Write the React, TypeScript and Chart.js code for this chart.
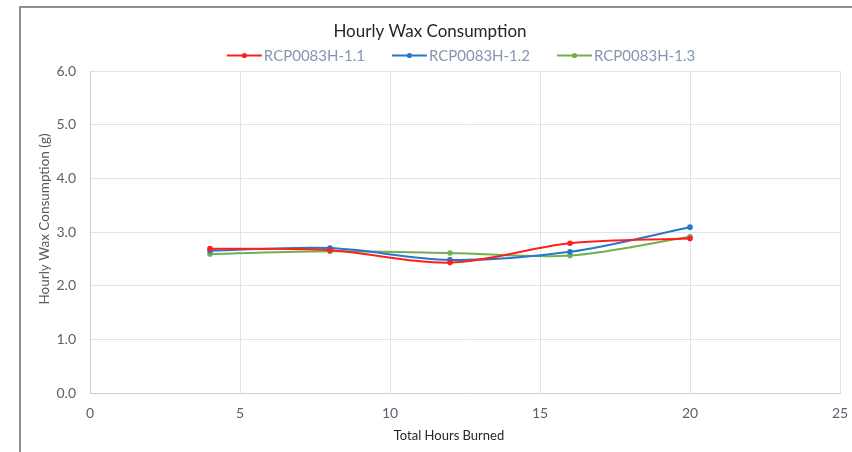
import React, { useEffect, useRef } from "react";
import { Chart, registerables } from "chart.js";

Chart.register(...registerables);

const hours = [4, 8, 12, 16, 20];
const seriesNames = ["RCP0083H-1.1", "RCP0083H-1.2", "RCP0083H-1.3"];
const s1 = [2.69, 2.66, 2.43, 2.79, 2.88];
const s2 = [2.65, 2.7, 2.48, 2.63, 3.09];
const s3 = [2.59, 2.64, 2.61, 2.56, 2.91];
const seriesColors = ["#ff1f1f", "#2479cc", "#72b04c"];
const xTicks = [0, 5, 10, 15, 20, 25];
const yTicks = [0, 1, 2, 3, 4, 5, 6];
const chartTitle = "Hourly Wax Consumption";
const xTitle = "Total Hours Burned";
const yTitle = "Hourly Wax Consumption (g)";

const FONT = "Lato, 'Open Sans', sans-serif";

const customPlugin = {
  id: "customText",
  afterDraw(chart: any) {
    const ctx = chart.ctx as CanvasRenderingContext2D;
    ctx.save();
    // legend
    ctx.font = `15px ${FONT}`;
    ctx.textBaseline = "middle";
    ctx.textAlign = "left";
    const lineLen = 35;
    const gapText = 2;
    const gapItem = 27;
    const items = chart.data.datasets.map((ds: any) => ({
      label: ds.label,
      color: ds.borderColor,
      w: ctx.measureText(ds.label).width,
    }));
    let total = 0;
    items.forEach((it: any, i: number) => {
      total += lineLen + gapText + it.w + (i > 0 ? gapItem : 0);
    });
    let x = 461 - total / 2;
    const y = 55.5;
    items.forEach((it: any) => {
      ctx.strokeStyle = it.color;
      ctx.lineWidth = 2;
      ctx.beginPath();
      ctx.moveTo(x, y);
      ctx.lineTo(x + lineLen, y);
      ctx.stroke();
      ctx.fillStyle = it.color;
      ctx.beginPath();
      ctx.arc(x + lineLen / 2, y, 2.6, 0, Math.PI * 2);
      ctx.fill();
      ctx.fillStyle = "#8497b0";
      ctx.fillText(it.label, x + lineLen + gapText, y + 0.5);
      x += lineLen + gapText + it.w + gapItem;
    });
    // x axis title
    ctx.font = `13px ${FONT}`;
    ctx.fillStyle = "#262626";
    ctx.textAlign = "center";
    ctx.fillText(xTitle, 449, 436);
    // y axis title
    ctx.translate(45, 219);
    ctx.rotate(-Math.PI / 2);
    ctx.font = `13.5px ${FONT}`;
    ctx.fillStyle = "#595959";
    ctx.fillText(yTitle, 0, 0);
    ctx.restore();
  },
};

export default function App() {
  const ref = useRef<HTMLCanvasElement | null>(null);
  useEffect(() => {
    if (!ref.current) return;
    const datasets = [s1, s2, s3].map((vals, i) => ({
      label: seriesNames[i],
      data: hours.map((h, j) => ({ x: h, y: vals[j] })),
      borderColor: seriesColors[i],
      backgroundColor: seriesColors[i],
      borderWidth: 2,
      pointRadius: 2.8,
      pointHoverRadius: 2.8,
      pointBorderWidth: 0,
      tension: 0.33,
      fill: false,
    }));
    const chart = new Chart(ref.current, {
      type: "line",
      data: { datasets },
      plugins: [customPlugin],
      options: {
        animation: false,
        responsive: false,
        layout: { padding: { left: 20, right: 12, top: 0, bottom: 0 } },
        plugins: {
          legend: { display: false },
          tooltip: { enabled: false },
          title: {
            display: true,
            text: chartTitle,
            color: "#262626",
            font: { family: FONT, size: 17, weight: "normal" },
            padding: { top: 21, bottom: 29.6 },
          },
        },
        scales: {
          x: {
            type: "linear",
            min: 0,
            max: 25,
            afterFit: (s: any) => {
              s.height = 59;
              s.paddingLeft = 0;
              s.paddingRight = 0;
            },
            afterBuildTicks: (s: any) => {
              s.ticks = xTicks.map((v) => ({ value: v }));
            },
            ticks: {
              color: "#595f6e",
              font: { family: FONT, size: 14 },
              padding: 12,
              maxRotation: 0,
            },
            grid: { color: "#dfe3ec", drawTicks: false, lineWidth: 1 },
            border: { color: "#c8d0de", width: 1 },
          },
          y: {
            min: 0,
            max: 6,
            afterFit: (s: any) => {
              s.width = 70;
              s.paddingTop = 0;
              s.paddingBottom = 0;
            },
            afterBuildTicks: (s: any) => {
              s.ticks = yTicks.map((v) => ({ value: v }));
            },
            ticks: {
              color: "#595f6e",
              font: { family: FONT, size: 14 },
              padding: 14,
              callback: (v: any) => Number(v).toFixed(1),
            },
            grid: { color: "#dfe3ec", drawTicks: false, lineWidth: 1 },
            border: { color: "#c8d0de", width: 1 },
          },
        },
      },
    });
    return () => chart.destroy();
  }, []);
  return (
    <div
      style={{
        position: "fixed",
        left: 0,
        top: 0,
        width: 852,
        height: 452,
        background: "#ffffff",
        overflow: "hidden",
      }}
    >
      <canvas ref={ref} width={852} height={452} style={{ position: "absolute", left: 0, top: 0 }} />
      <div
        style={{
          position: "absolute",
          left: 19,
          top: 6,
          width: 833,
          height: 446,
          boxSizing: "border-box",
          borderTop: "2px solid #8f8f8f",
          borderLeft: "2px solid #8f8f8f",
          pointerEvents: "none",
        }}
      />
    </div>
  );
}
